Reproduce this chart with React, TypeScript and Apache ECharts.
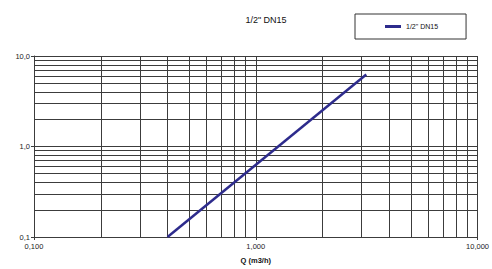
import React, { useEffect, useRef } from "react";
import * as echarts from "echarts";

const seriesName = '1/2" DN15';
const flowQ = [0.4, 3.15];
const pressure = [0.1, 6.25];
const xMinorGrid = [0.2, 0.3, 0.4, 0.5, 0.6, 0.7, 0.8, 0.9, 2, 3, 4, 5, 6, 7, 8, 9];
const yMinorGrid = [0.2, 0.3, 0.4, 0.5, 0.6, 0.7, 0.8, 0.9, 2, 3, 4, 5, 6, 7, 8, 9];
const xName = "Q (m3/h)";

const FONT = "'Liberation Sans', Arial, sans-serif";
const GRID = "#3c3c3c";
const LINE = "#2d2b8c";

export default function App() {
  const ref = useRef<HTMLDivElement>(null);
  useEffect(() => {
    if (!ref.current) return;
    const chart = echarts.init(ref.current, null, { renderer: "svg" });
    const data = flowQ.map((q, i) => [q, pressure[i]]);
    const markData: any[] = [
      ...xMinorGrid.map((v) => ({ xAxis: v })),
      ...yMinorGrid.map((v) => ({ yAxis: v })),
    ];
    chart.setOption({
      animation: false,
      backgroundColor: "#ffffff",
      textStyle: { fontFamily: FONT },
      graphic: [
        {
          type: "text",
          x: 266,
          y: 20,
          style: {
            text: seriesName,
            fontSize: 9,
            fontFamily: FONT,
            fill: "#111",
            textAlign: "center",
            textVerticalAlign: "middle",
          },
        },
      ],
      legend: {
        left: 355,
        top: 14,
        padding: [8, 28, 8, 30],
        borderColor: "#333",
        borderWidth: 1,
        itemWidth: 16,
        itemHeight: 3,
        icon: "rect",
        data: [{ name: seriesName, icon: "rect", itemStyle: { color: LINE } }],
        textStyle: { fontSize: 7, color: "#111", fontFamily: FONT, lineHeight: 9 },
      },
      grid: { left: 34, right: 9, top: 56, bottom: 27, containLabel: false },
      xAxis: {
        type: "log",
        logBase: 10,
        min: 0.1,
        max: 10,
        name: xName,
        nameLocation: "middle",
        nameGap: 19,
        nameTextStyle: { fontSize: 7.5, fontWeight: "bold", color: "#111", fontFamily: FONT },
        axisLine: { show: true, lineStyle: { color: GRID, width: 1 } },
        axisTick: { show: true, length: 3, lineStyle: { color: GRID } },
        axisLabel: {
          fontSize: 7.5,
          color: "#222",
          margin: 5,
          formatter: (v: number) => v.toFixed(3).replace(".", ","),
        },
        splitLine: { show: true, lineStyle: { color: GRID, width: 1 } },
        minorTick: { show: false },
        minorSplitLine: { show: false },
      },
      yAxis: {
        type: "log",
        logBase: 10,
        min: 0.1,
        max: 10,
        axisLine: { show: true, lineStyle: { color: GRID, width: 1 } },
        axisTick: { show: true, length: 3, lineStyle: { color: GRID } },
        axisLabel: {
          fontSize: 7.5,
          color: "#222",
          margin: 4,
          formatter: (v: number) => v.toFixed(1).replace(".", ","),
        },
        splitLine: { show: true, lineStyle: { color: GRID, width: 1 } },
      },
      series: [
        {
          name: seriesName,
          type: "line",
          data,
          symbol: "none",
          lineStyle: { color: LINE, width: 2.5 },
          itemStyle: { color: LINE },
          z: 5,
          markLine: {
            silent: true,
            symbol: "none",
            label: { show: false },
            lineStyle: { color: GRID, width: 1, type: "solid" },
            z: 1,
            data: markData,
          },
        },
      ],
    });
    return () => chart.dispose();
  }, []);
  return <div ref={ref} style={{ width: 492, height: 269, position: "absolute", left: 0, top: 0 }} />;
}
